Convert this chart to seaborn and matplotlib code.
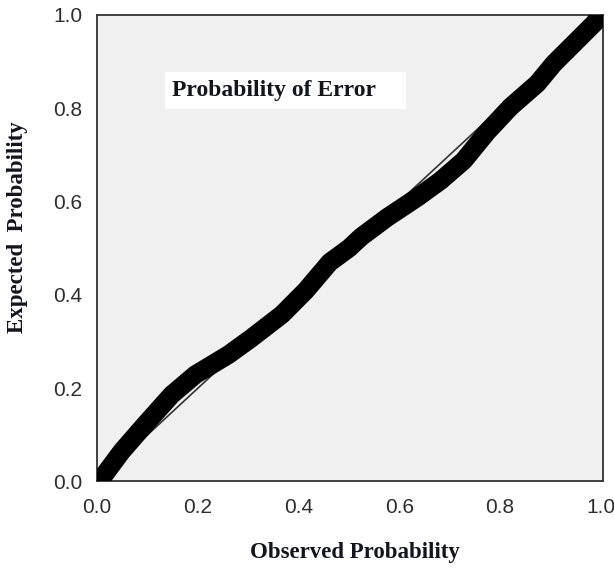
import matplotlib
matplotlib.use("Agg")
import matplotlib.pyplot as plt
import seaborn as sns
import pandas as pd
from matplotlib.patches import Rectangle

# ---- data ----
observed = [0.0, 0.009, 0.049, 0.095, 0.148, 0.195, 0.261, 0.307, 0.367, 0.414,
            0.462, 0.50, 0.525, 0.576, 0.636, 0.682, 0.728, 0.775, 0.821, 0.874,
            0.907, 0.947, 0.987, 1.0]
expected = [0.0, 0.007, 0.065, 0.122, 0.186, 0.229, 0.272, 0.308, 0.358, 0.409,
            0.470, 0.500, 0.525, 0.566, 0.609, 0.645, 0.688, 0.750, 0.803, 0.853,
            0.896, 0.939, 0.982, 1.0]
ref_line = [0.0, 1.0]
tick_values = [0.0, 0.2, 0.4, 0.6, 0.8, 1.0]
tick_labels = ["0.0", "0.2", "0.4", "0.6", "0.8", "1.0"]
x_label = "Observed Probability"
y_label = "Expected  Probability"
box_title = "Probability of Error"

sns.set_style("white", {"axes.facecolor": "#f0f0f0"})
plt.rcParams["font.family"] = ["Liberation Sans", "DejaVu Sans"]

fig = plt.figure(figsize=(6.14, 5.68), dpi=100)
ax = fig.add_axes([0.1583, 0.1523, 0.8238, 0.8213])
ax.set_facecolor("#f0f0f0")

curve = pd.DataFrame({"observed": observed, "expected": expected})
diag = pd.DataFrame({"observed": ref_line, "expected": ref_line})

sns.lineplot(data=diag, x="observed", y="expected", ax=ax, color="#333333",
             linewidth=1.2, zorder=2, sort=False)
sns.lineplot(data=curve, x="observed", y="expected", ax=ax, color="black",
             linewidth=13.5, zorder=3, sort=False, solid_capstyle="round",
             solid_joinstyle="round")

ax.set_xlim(0, 1.0046)
ax.set_ylim(0, 1.0)
ax.set_xticks(tick_values)
ax.set_xticklabels(tick_labels)
ax.set_yticks(tick_values)
ax.set_yticklabels(tick_labels)
ax.tick_params(axis="both", direction="out", length=8.6, width=1.3,
               color="#333333", labelsize=15, labelcolor="#2e2e2e")
ax.tick_params(axis="x", pad=3)
ax.tick_params(axis="y", pad=2)

for s in ax.spines.values():
    s.set_visible(True)
    s.set_color("#333333")
    s.set_linewidth(1.3)

lab_font = dict(family=["Liberation Serif", "DejaVu Serif"], weight="bold",
                size=16.5, color="#141420")
ax.set_xlabel(x_label, **lab_font)
ax.set_ylabel(y_label, **lab_font)
ax.xaxis.set_label_coords(0.51, -0.13)
ax.yaxis.set_label_coords(-0.137, 0.545)

ax.add_patch(Rectangle((0.135, 0.798), 0.476, 0.080, transform=ax.transAxes,
                       facecolor="white", edgecolor="none", zorder=4))
ax.text(0.148, 0.838, box_title, transform=ax.transAxes, ha="left", va="center",
        family=["Liberation Serif", "DejaVu Serif"], weight="bold", size=17,
        color="#141420", zorder=5)

fig.savefig("out.png", dpi=100)
